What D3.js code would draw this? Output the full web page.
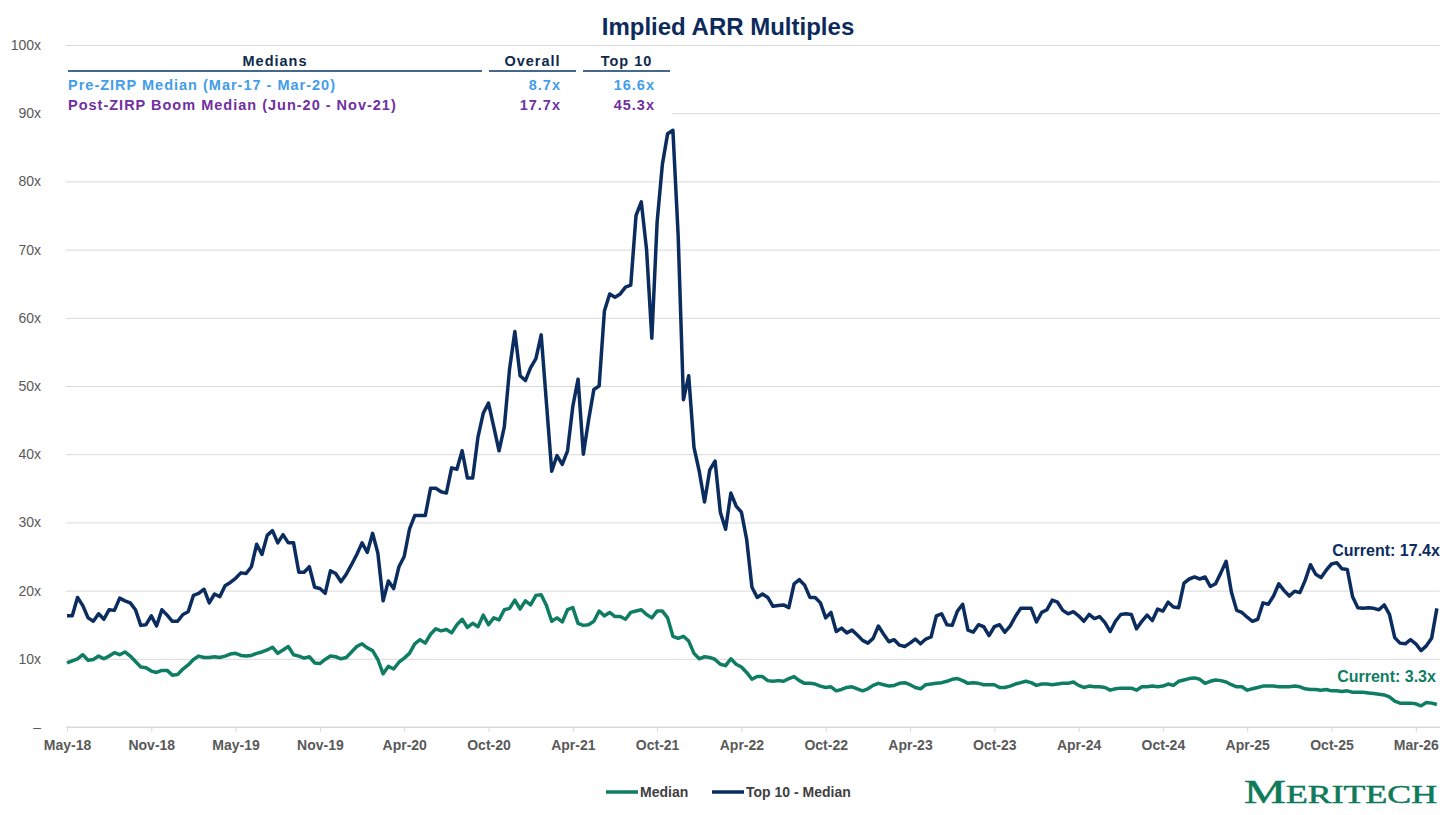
<!DOCTYPE html>
<html lang="en">
  <head>
    <meta charset="UTF-8" />
    <title>Implied ARR Multiples</title>
    <style>
      * {
        margin: 0;
        padding: 0;
      }
      body {
        background: #fff;
      }
      svg text {
        font-family: "Liberation Sans", Arial, sans-serif;
      }
    </style>
  </head>
  <body>
    <svg id="chart"></svg>

    <script src="https://d3js.org/d3.v7.min.js"></script>
    <script>
      // x axis labels, one every 16 samples
      const tickLabels = [
        "May-18", "Nov-18", "May-19", "Nov-19", "Apr-20", "Oct-20", "Apr-21", "Oct-21", "Apr-22",
        "Oct-22", "Apr-23", "Oct-23", "Apr-24", "Oct-24", "Apr-25", "Oct-25", "Mar-26",
      ];
      const ptsPerTick = 16;

      // Top 10 - Median (x)
      const top10 = [
        16.3, 16.3, 19.0, 17.8, 16.0, 15.5, 16.6, 15.8, 17.2, 17.1,
        18.9, 18.5, 18.2, 17.2, 14.9, 15.0, 16.3, 14.8, 17.2, 16.4,
        15.5, 15.5, 16.5, 16.9, 19.3, 19.6, 20.2, 18.2, 19.5, 19.1,
        20.7, 21.2, 21.8, 22.6, 22.5, 23.5, 26.8, 25.3, 28.1, 28.8,
        27.0, 28.2, 27.0, 27.0, 22.7, 22.7, 23.5, 20.5, 20.3, 19.6,
        22.9, 22.5, 21.3, 22.4, 23.8, 25.3, 27.0, 25.6, 28.4, 25.5,
        18.5, 21.4, 20.3, 23.5, 25.0, 29.0, 31.0, 31.0, 31.0, 35.0,
        35.0, 34.5, 34.3, 38.0, 37.8, 40.5, 36.5, 36.5, 42.5, 46.0,
        47.5, 44.0, 40.5, 44.0, 52.5, 58.0, 51.5, 50.8, 52.7, 54.0,
        57.5, 47.5, 37.5, 39.8, 38.5, 40.5, 47.0, 51.0, 40.0, 45.0,
        49.5, 50.0, 61.0, 63.5, 63.0, 63.5, 64.5, 64.8, 75.0, 77.0,
        70.0, 57.0, 74.0, 82.5, 87.0, 87.5, 72.0, 48.0, 51.5, 41.0,
        37.5, 33.0, 37.7, 39.0, 31.5, 29.0, 34.3, 32.4, 31.5, 27.5,
        20.5, 19.0, 19.5, 19.0, 17.7, 17.8, 17.9, 17.5, 21.0, 21.6,
        20.8, 19.0, 19.0, 18.2, 16.0, 16.8, 14.0, 14.5, 13.8, 14.2,
        13.5, 12.7, 12.3, 13.0, 14.8, 13.6, 12.5, 12.8, 12.0, 11.8,
        12.3, 12.9, 12.2, 12.9, 13.2, 16.3, 16.6, 15.0, 14.9, 17.0,
        18.0, 14.2, 13.9, 15.0, 14.7, 13.4, 14.7, 15.0, 13.9, 14.8,
        16.2, 17.4, 17.4, 17.4, 15.4, 16.8, 17.2, 18.6, 18.3, 17.1,
        16.6, 16.9, 16.3, 15.5, 16.5, 15.9, 16.2, 15.3, 14.0, 15.5,
        16.5, 16.6, 16.5, 14.4, 15.5, 16.4, 15.6, 17.3, 17.0, 18.3,
        17.6, 17.5, 21.1, 21.7, 22.0, 21.7, 22.0, 20.6, 21.0, 22.6,
        24.3, 19.8, 17.1, 16.8, 16.1, 15.5, 15.8, 18.2, 18.0, 19.2,
        21.0, 20.0, 19.2, 19.9, 19.7, 21.5, 23.8, 22.4, 21.9, 23.0,
        23.9, 24.1, 23.2, 23.1, 19.1, 17.5, 17.4, 17.5, 17.4, 17.2,
        17.9, 16.5, 13.1, 12.3, 12.2, 12.8, 12.2, 11.2, 11.9, 13.0,
        17.4,
      ];

      // Median (x)
      const median = [
        9.4, 9.7, 10.0, 10.6, 9.8, 9.9, 10.4, 10.0, 10.4, 10.9,
        10.6, 11.0, 10.4, 9.6, 8.8, 8.7, 8.2, 8.0, 8.3, 8.3,
        7.6, 7.7, 8.5, 9.1, 9.9, 10.4, 10.2, 10.2, 10.3, 10.2,
        10.4, 10.7, 10.8, 10.5, 10.4, 10.5, 10.8, 11.0, 11.3, 11.7,
        10.8, 11.3, 11.8, 10.6, 10.4, 10.1, 10.3, 9.4, 9.3, 9.9,
        10.4, 10.3, 10.0, 10.2, 11.0, 11.8, 12.2, 11.6, 11.2, 9.9,
        7.8, 8.9, 8.5, 9.5, 10.1, 10.8, 12.2, 12.8, 12.3, 13.6,
        14.4, 14.1, 14.3, 13.8, 15.0, 15.8, 14.6, 15.2, 14.7, 16.4,
        15.0, 16.0, 15.7, 17.2, 17.4, 18.6, 17.3, 18.5, 17.9, 19.3,
        19.4, 17.8, 15.5, 16.0, 15.4, 17.2, 17.5, 15.2, 14.9, 15.0,
        15.5, 17.0, 16.3, 16.8, 16.2, 16.2, 15.8, 16.8, 17.0, 17.2,
        16.5, 16.0, 17.0, 17.0, 16.0, 13.3, 13.0, 13.3, 12.6, 10.8,
        10.0, 10.3, 10.2, 9.9, 9.2, 9.0, 10.0, 9.2, 8.8, 8.0,
        7.0, 7.4, 7.4, 6.8, 6.7, 6.8, 6.7, 7.1, 7.4, 6.8,
        6.4, 6.4, 6.3, 6.0, 5.8, 5.9, 5.3, 5.5, 5.8, 5.9,
        5.6, 5.3, 5.6, 6.1, 6.4, 6.2, 6.0, 6.1, 6.4, 6.5,
        6.2, 5.8, 5.6, 6.2, 6.3, 6.4, 6.5, 6.7, 7.0, 7.1,
        6.8, 6.4, 6.5, 6.4, 6.2, 6.2, 6.2, 5.8, 5.8, 6.0,
        6.3, 6.5, 6.7, 6.5, 6.1, 6.3, 6.3, 6.2, 6.3, 6.4,
        6.4, 6.6, 6.1, 5.8, 6.0, 5.9, 5.9, 5.8, 5.4, 5.6,
        5.7, 5.7, 5.7, 5.4, 5.9, 5.9, 6.0, 5.9, 6.0, 6.3,
        6.1, 6.7, 6.9, 7.1, 7.2, 7.0, 6.4, 6.7, 6.9, 6.8,
        6.6, 6.2, 5.9, 5.9, 5.4, 5.6, 5.8, 6.0, 6.0, 6.0,
        5.9, 5.9, 5.9, 6.0, 5.9, 5.6, 5.5, 5.5, 5.4, 5.5,
        5.3, 5.3, 5.2, 5.3, 5.1, 5.1, 5.1, 5.0, 4.9, 4.8,
        4.7, 4.4, 3.8, 3.5, 3.5, 3.5, 3.4, 3.1, 3.6, 3.5,
        3.3,
      ];

      const yTicks = [0, 10, 20, 30, 40, 50, 60, 70, 80, 90, 100];

      const tableHeaders = ["Medians", "Overall", "Top 10"];
      const tableRows = [
        { label: "Pre-ZIRP Median (Mar-17 - Mar-20)", overall: 8.7, top: 16.6, color: "#439de9" },
        { label: "Post-ZIRP Boom Median (Jun-20 - Nov-21)", overall: 17.7, top: 45.3, color: "#7030a0" },
      ];

      const series = [
        { name: "Median", values: median, color: "#0f7d64" },
        { name: "Top 10 - Median", values: top10, color: "#0b2c5f" },
      ];

      const width = 1456;
      const height = 815;
      const plotLeft = 67;
      const tickStep = 84.3;

      const svg = d3.select("#chart").attr("width", width).attr("height", height);

      const lastIndex = top10.length - 1;
      const x = d3
        .scaleLinear()
        .domain([0, (tickLabels.length - 1) * ptsPerTick])
        .range([plotLeft, plotLeft + (tickLabels.length - 1) * tickStep]);
      const y = d3.scaleLinear().domain([0, 100]).range([727, 45]);
      const plotRight = x(lastIndex) + 3;

      // title
      svg
        .append("text")
        .attr("x", width / 2)
        .attr("y", 35)
        .attr("text-anchor", "middle")
        .attr("font-size", "24px")
        .attr("font-weight", "bold")
        .attr("fill", "#0c2a5c")
        .text("Implied ARR Multiples");

      // gridlines
      svg
        .append("g")
        .attr("transform", `translate(${plotLeft - 1},0)`)
        .call(d3.axisLeft(y).tickValues(yTicks).tickSize(-(plotRight - plotLeft + 1)).tickFormat(""))
        .call((g) => g.select(".domain").remove())
        .call((g) => g.selectAll("line").attr("stroke", "#d9d9d9").attr("stroke-width", 1));

      // y labels
      svg
        .append("g")
        .attr("transform", "translate(41,0)")
        .call(
          d3
            .axisLeft(y)
            .tickValues(yTicks)
            .tickSize(0)
            .tickPadding(0)
            .tickFormat((d) => (d === 0 ? "–" : d + "x"))
        )
        .call((g) => g.select(".domain").remove())
        .call((g) =>
          g
            .selectAll("text")
            .attr("fill", "#595959")
            .attr("font-size", "14px")
            .attr("font-family", "Liberation Sans, Arial, sans-serif")
        );

      // x axis
      const xAxis = svg
        .append("g")
        .attr("transform", `translate(0,${y(0)})`)
        .call(
          d3
            .axisBottom(x)
            .tickValues(tickLabels.map((d, i) => i * ptsPerTick))
            .tickSize(5)
            .tickPadding(8)
            .tickFormat((d) => tickLabels[d / ptsPerTick])
        );
      xAxis.select(".domain").remove();
      xAxis.selectAll("line").attr("stroke", "#d9d9d9");
      xAxis
        .selectAll("text")
        .attr("fill", "#595959")
        .attr("font-size", "14px")
        .attr("font-weight", "bold")
        .attr("font-family", "Liberation Sans, Arial, sans-serif");
      xAxis
        .append("line")
        .attr("x1", plotLeft - 1)
        .attr("x2", plotRight)
        .attr("stroke", "#d9d9d9");

      // lines
      const line = d3
        .line()
        .x((d, i) => x(i))
        .y((d) => y(d));

      svg
        .append("g")
        .selectAll("path")
        .data(series)
        .join("path")
        .attr("d", (d) => line(d.values))
        .attr("fill", "none")
        .attr("stroke", (d) => d.color)
        .attr("stroke-width", 3.5)
        .attr("stroke-linejoin", "round");

      // current value labels
      svg
        .append("text")
        .attr("x", plotRight)
        .attr("y", y(25.1))
        .attr("text-anchor", "end")
        .attr("font-size", "16px")
        .attr("font-weight", "bold")
        .attr("fill", "#0b2c5f")
        .text(`Current: ${top10[lastIndex].toFixed(1)}x`);

      svg
        .append("text")
        .attr("x", plotRight - 4)
        .attr("y", y(6.6))
        .attr("text-anchor", "end")
        .attr("font-size", "16px")
        .attr("font-weight", "bold")
        .attr("fill", "#0f7d64")
        .text(`Current: ${median[lastIndex].toFixed(1)}x`);

      // medians table
      const table = svg.append("g");
      const cols = [
        { x1: 68, x2: 482 },
        { x1: 489, x2: 576 },
        { x1: 583, x2: 670 },
      ];

      table
        .append("rect")
        .attr("x", 60)
        .attr("y", 49)
        .attr("width", 612)
        .attr("height", 68)
        .attr("fill", "#fff");

      table
        .selectAll(".head")
        .data(tableHeaders)
        .join("text")
        .attr("class", "head")
        .attr("x", (d, i) => (cols[i].x1 + cols[i].x2) / 2)
        .attr("y", 65.5)
        .attr("text-anchor", "middle")
        .attr("font-size", "14.5px")
        .attr("font-weight", "bold")
        .attr("letter-spacing", "1px")
        .attr("fill", "#102a4c")
        .text((d) => d);

      table
        .selectAll(".rule")
        .data(cols)
        .join("line")
        .attr("class", "rule")
        .attr("x1", (d) => d.x1)
        .attr("x2", (d) => d.x2)
        .attr("y1", 71)
        .attr("y2", 71)
        .attr("stroke", "#46698b")
        .attr("stroke-width", 2);

      const rows = table
        .selectAll(".row")
        .data(tableRows)
        .join("g")
        .attr("class", "row")
        .attr("transform", (d, i) => `translate(0,${89.5 + i * 20.5})`)
        .attr("font-size", "14.5px")
        .attr("font-weight", "bold")
        .attr("letter-spacing", "1px")
        .attr("fill", (d) => d.color);

      rows.append("text").attr("x", 68).text((d) => d.label);
      rows
        .append("text")
        .attr("x", 561)
        .attr("text-anchor", "end")
        .text((d) => d.overall.toFixed(1) + "x");
      rows
        .append("text")
        .attr("x", 655)
        .attr("text-anchor", "end")
        .text((d) => d.top.toFixed(1) + "x");

      // legend
      const legendX = [606, 712];
      const legend = svg
        .append("g")
        .selectAll("g")
        .data(series)
        .join("g")
        .attr("transform", (d, i) => `translate(${legendX[i]},792)`);

      legend
        .append("line")
        .attr("x1", 0)
        .attr("x2", 32)
        .attr("stroke", (d) => d.color)
        .attr("stroke-width", 3.5);

      legend
        .append("text")
        .attr("x", 34)
        .attr("y", 5)
        .attr("font-size", "14px")
        .attr("font-weight", "bold")
        .attr("fill", "#404040")
        .text((d) => d.name);

      // logo
      const logo = svg
        .append("text")
        .attr("x", 1244)
        .attr("y", 803)
        .attr("fill", "#0f7a5a")
        .attr("stroke", "#0f7a5a")
        .attr("stroke-width", 0.5)
        .attr("textLength", 193)
        .attr("lengthAdjust", "spacingAndGlyphs")
        .style("font-family", "'Liberation Serif', 'DejaVu Serif', serif");
      logo.append("tspan").attr("font-size", "33px").text("M");
      logo.append("tspan").attr("font-size", "25px").text("ERITECH");
    </script>
  </body>
</html>
